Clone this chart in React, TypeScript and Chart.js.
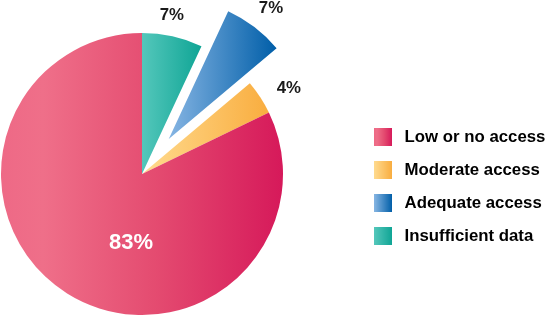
import { useEffect, useRef } from 'react';
import { Chart, registerables } from 'chart.js';

Chart.register(...registerables);

// ---- data ----
const categories = ['Low or no access', 'Moderate access', 'Adequate access', 'Insufficient data'];
const shares = [83, 4, 7, 7];
const shareLabels = ['83%', '4%', '7%', '7%'];
const explodedCategory = 'Adequate access';

// ---- styles ----
const FONT = "'Liberation Sans', Arial, sans-serif";
const RADIUS = 141;
const EXPLODE = 44;
const LEGEND_FONT = 16.8;

const gradientStops: Record<string, [number, string][]> = {
  'Low or no access': [[0, '#ee6986'], [0.15, '#ef6f89'], [0.55, '#e44b70'], [1, '#d6195a']],
  'Moderate access': [[0, '#ffdb8f'], [1, '#f9ad3f']],
  'Adequate access': [[0, '#86b5e3'], [1, '#005ea8']],
  'Insufficient data': [[0, '#54c7bb'], [1, '#0fa595']],
};

// label placement relative to each slice: gap beyond outer radius (px), turn from mid-angle (deg)
const labelStyle: Record<string, { gap: number; turn: number; color: string; size: number }> = {
  'Low or no access': { gap: -71, turn: -23, color: '#ffffff', size: 22 },
  'Moderate access': { gap: 29, turn: 2.7, color: '#1a1a1a', size: 16.8 },
  'Adequate access': { gap: 25, turn: 0.6, color: '#1a1a1a', size: 16.8 },
  'Insufficient data': { gap: 20, turn: -1.8, color: '#1a1a1a', size: 16.8 },
};

// slices are drawn clockwise from 12 o'clock in reverse legend order
const ringOrder = categories.map((_, i) => i).reverse();
const ringLabels = ringOrder.map((i) => categories[i]);
const ringData = ringOrder.map((i) => shares[i]);
const ringText = ringOrder.map((i) => shareLabels[i]);

function sectorXRange(cx: number, cy: number, r: number, a0: number, a1: number) {
  const xs = [cx, cx + r * Math.cos(a0), cx + r * Math.cos(a1)];
  for (let k = Math.ceil(a0 / Math.PI); k * Math.PI < a1; k++) xs.push(cx + r * Math.cos(k * Math.PI));
  return [Math.min(...xs), Math.max(...xs)];
}

function legendSwatch(name: string) {
  const c = document.createElement('canvas');
  c.width = 18;
  c.height = 18;
  const g2 = c.getContext('2d')!;
  const g = g2.createLinearGradient(0, 0, 18, 0);
  gradientStops[name].forEach(([o, col]) => g.addColorStop(o, col));
  g2.fillStyle = g;
  g2.fillRect(0, 0, 18, 18);
  return c;
}

const explodePlugin = {
  id: 'explodeSlice',
  afterDatasetsUpdate(chart: any) {
    const meta = chart.getDatasetMeta(0);
    meta.data.forEach((el: any, i: number) => {
      if (ringLabels[i] !== explodedCategory) return;
      const m = (el.startAngle + el.endAngle) / 2;
      el.x += Math.cos(m) * EXPLODE;
      el.y += Math.sin(m) * EXPLODE;
    });
  },
};

const labelPlugin = {
  id: 'sliceLabels',
  afterDatasetsDraw(chart: any) {
    const ctx = chart.ctx;
    const meta = chart.getDatasetMeta(0);
    ctx.save();
    ctx.textAlign = 'center';
    ctx.textBaseline = 'middle';
    meta.data.forEach((el: any, i: number) => {
      const st = labelStyle[ringLabels[i]];
      const a = (el.startAngle + el.endAngle) / 2 + (st.turn * Math.PI) / 180;
      const d = el.outerRadius + st.gap;
      ctx.font = `bold ${st.size}px ${FONT}`;
      ctx.fillStyle = st.color;
      ctx.fillText(ringText[i], el.x + Math.cos(a) * d, el.y + Math.sin(a) * d);
    });
    ctx.restore();
  },
};

export default function App() {
  const ref = useRef<HTMLCanvasElement | null>(null);

  useEffect(() => {
    if (!ref.current) return;
    const chart = new Chart(ref.current, {
      type: 'pie',
      data: {
        labels: ringLabels,
        datasets: [
          {
            data: ringData,
            borderWidth: 0,
            radius: RADIUS,
            backgroundColor: (c: any) => {
              const name = ringLabels[c.dataIndex];
              const stops = gradientStops[name];
              const chartRef = c.chart;
              const area = chartRef.chartArea;
              if (!area) return stops[stops.length - 1][1];
              const data = c.dataset.data as number[];
              const total = data.reduce((s, v) => s + v, 0);
              let a0 = -Math.PI / 2;
              for (let i = 0; i < c.dataIndex; i++) a0 += (2 * Math.PI * data[i]) / total;
              const a1 = a0 + (2 * Math.PI * data[c.dataIndex]) / total;
              let cx = (area.left + area.right) / 2;
              let cy = (area.top + area.bottom) / 2;
              if (name === explodedCategory) {
                const m = (a0 + a1) / 2;
                cx += Math.cos(m) * EXPLODE;
                cy += Math.sin(m) * EXPLODE;
              }
              const [x0, x1] = sectorXRange(cx, cy, RADIUS, a0, a1);
              const g = chartRef.ctx.createLinearGradient(x0, 0, x1, 0);
              stops.forEach(([o, col]) => g.addColorStop(o, col));
              return g;
            },
          } as any,
        ],
      },
      options: {
        responsive: false,
        animation: false,
        events: [],
        layout: { padding: { left: 0, right: 0, top: 87.5, bottom: 55.5 } },
        plugins: {
          tooltip: { enabled: false },
          // empty spacer box between the pie area and the legend
          title: {
            display: true,
            text: '',
            position: 'right',
            weight: 500,
            font: { size: 10, lineHeight: 1 },
            padding: { top: 30, bottom: 30 },
          } as any,
          legend: {
            position: 'right',
            align: 'end',
            maxWidth: 192,
            labels: {
              usePointStyle: true,
              pointStyleWidth: 26,
              padding: 33 - LEGEND_FONT,
              color: '#141414',
              font: { family: FONT, size: LEGEND_FONT, weight: 'bold' },
              generateLabels: () =>
                categories.map((name, i) => ({
                  text: name,
                  pointStyle: legendSwatch(name),
                  fillStyle: gradientStops[name][gradientStops[name].length - 1][1],
                  strokeStyle: 'rgba(0,0,0,0)',
                  lineWidth: 0,
                  hidden: false,
                  index: ringOrder.indexOf(i),
                  datasetIndex: 0,
                })),
            },
          } as any,
        },
      },
      plugins: [explodePlugin, labelPlugin],
    });
    return () => chart.destroy();
  }, []);

  return (
    <div style={{ position: 'fixed', left: 0, top: 0, width: 546, height: 316, background: '#fff' }}>
      <canvas ref={ref} width={546} height={316} />
    </div>
  );
}
